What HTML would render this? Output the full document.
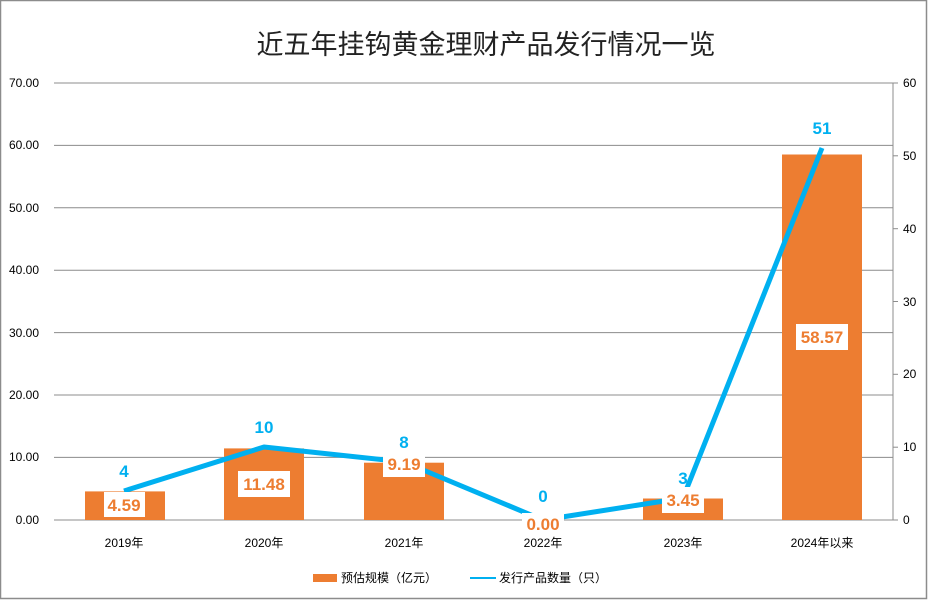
<!DOCTYPE html>
<html><head><meta charset="utf-8"><style>
body{margin:0;background:#fff}
svg text{font-family:"Liberation Sans","Noto Sans CJK SC",sans-serif}
</style></head><body>
<svg width="928" height="601" viewBox="0 0 928 601" xmlns="http://www.w3.org/2000/svg">
<rect x="0.5" y="0.5" width="926" height="598" fill="#fff" stroke="#8c8c8c" stroke-width="1.5"/>
<text x="486" y="54" font-size="27" text-anchor="middle" fill="#222">近五年挂钩黄金理财产品发行情况一览</text>
<g stroke="#8c8c8c" stroke-width="1">
<line x1="54" y1="83" x2="893" y2="83"/><line x1="54" y1="145.4" x2="893" y2="145.4"/>
<line x1="54" y1="207.8" x2="893" y2="207.8"/><line x1="54" y1="270.2" x2="893" y2="270.2"/>
<line x1="54" y1="332.6" x2="893" y2="332.6"/><line x1="54" y1="395" x2="893" y2="395"/>
<line x1="54" y1="457.4" x2="893" y2="457.4"/><line x1="54" y1="520" x2="893" y2="520"/>
<line x1="893" y1="83" x2="893" y2="520"/>
<line x1="893" y1="83" x2="898" y2="83"/><line x1="893" y1="155.8" x2="898" y2="155.8"/>
<line x1="893" y1="228.7" x2="898" y2="228.7"/><line x1="893" y1="301.5" x2="898" y2="301.5"/>
<line x1="893" y1="374.3" x2="898" y2="374.3"/><line x1="893" y1="447.2" x2="898" y2="447.2"/>
<line x1="893" y1="520" x2="898" y2="520"/>
</g>
<g font-size="12" fill="#000" text-anchor="end">
<text x="39" y="87">70.00</text><text x="39" y="149">60.00</text><text x="39" y="212">50.00</text>
<text x="39" y="274">40.00</text><text x="39" y="337">30.00</text><text x="39" y="399">20.00</text>
<text x="39" y="461">10.00</text><text x="39" y="524">0.00</text>
</g>
<g font-size="12" fill="#000">
<text x="903" y="87">60</text><text x="903" y="160">50</text><text x="903" y="233">40</text>
<text x="903" y="306">30</text><text x="903" y="378">20</text><text x="903" y="451">10</text><text x="903" y="524">0</text>
</g>
<g fill="#ed7d31">
<rect x="85" y="491.4" width="80" height="28.6"/>
<rect x="224" y="448.4" width="80" height="71.6"/>
<rect x="364" y="462.7" width="80" height="57.3"/>
<rect x="643" y="498.5" width="80" height="21.5"/>
<rect x="782" y="154.5" width="80" height="365.5"/>
</g>
<polyline points="124,491 264,447 404,462 543,520 683,498 822,148" fill="none" stroke="#00b0f0" stroke-width="5" stroke-linejoin="round"/>
<g fill="#fff">
<rect x="104" y="492" width="41" height="25"/>
<rect x="238" y="471" width="52" height="26"/>
<rect x="383" y="451" width="42" height="26"/>
<rect x="522" y="513" width="42" height="20"/>
<rect x="662" y="487" width="42" height="26"/>
<rect x="796" y="324" width="52" height="26"/>
<rect x="114" y="462" width="20" height="20"/>
<rect x="128" y="484" width="0" height="0"/>
</g>
<g font-size="17" font-weight="bold" fill="#ed7d31" text-anchor="middle">
<text x="124" y="511">4.59</text><text x="264" y="490">11.48</text><text x="404" y="470">9.19</text>
<text x="543" y="530">0.00</text><text x="683" y="506">3.45</text><text x="822" y="343">58.57</text>
</g>
<g font-size="17" font-weight="bold" fill="#00b0f0" text-anchor="middle">
<text x="124" y="477">4</text><text x="264" y="433">10</text><text x="404" y="448">8</text>
<text x="543" y="502">0</text><text x="683" y="484">3</text><text x="822" y="134">51</text>
</g>
<g font-size="12" fill="#000" text-anchor="middle">
<text x="124" y="547">2019年</text><text x="264" y="547">2020年</text><text x="404" y="547">2021年</text>
<text x="543" y="547">2022年</text><text x="683" y="547">2023年</text><text x="822" y="547">2024年以来</text>
</g>
<rect x="313" y="574" width="24" height="8" fill="#ed7d31"/>
<text x="341" y="582" font-size="12">预估规模（亿元）</text>
<line x1="470" y1="578" x2="496" y2="578" stroke="#00b0f0" stroke-width="2"/>
<text x="499" y="582" font-size="12">发行产品数量（只）</text>
</svg>
</body></html>
